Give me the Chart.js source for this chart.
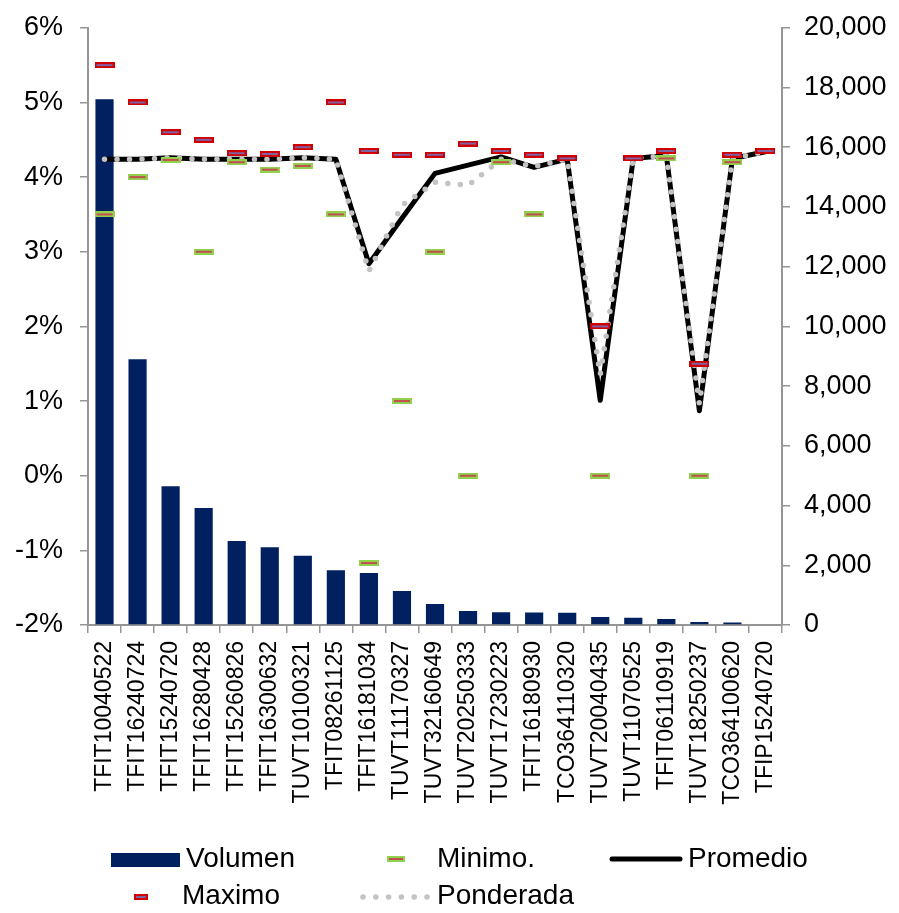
<!DOCTYPE html>
<html>
<head>
<meta charset="utf-8">
<script src="https://cdn.jsdelivr.net/npm/chart.js@4.4.1/dist/chart.umd.min.js"></script>
<style>
  html, body { margin: 0; padding: 0; background: #ffffff; }
  #wrap { width: 899px; height: 913px; position: relative; }
</style>
</head>
<body>
<div id="wrap"><canvas id="c"></canvas></div>
<script>
// Instrument codes (category axis)
const categories = [
  'TFIT10040522', 'TFIT16240724', 'TFIT15240720', 'TFIT16280428', 'TFIT15260826',
  'TFIT16300632', 'TUVT10100321', 'TFIT08261125', 'TFIT16181034', 'TUVT11170327',
  'TUVT32160649', 'TUVT20250333', 'TUVT17230223', 'TFIT16180930', 'TCO364110320',
  'TUVT20040435', 'TUVT11070525', 'TFIT06110919', 'TUVT18250237', 'TCO364100620',
  'TFIP15240720'
];

// Traded volume (right axis)
const volumen = [
  17610, 8900, 4650, 3920, 2810, 2600, 2320, 1830, 1740, 1140,
  700, 470, 430, 420, 410, 270, 240, 200, 100, 80,
  0
];

// Rates in percent (left axis)
const maximo = [
  5.5, 5.0, 4.6, 4.5, 4.32, 4.31, 4.4, 5.0, 4.35, 4.3,
  4.3, 4.45, 4.35, 4.3, 4.25, 2.0, 4.25, 4.35, 1.5, 4.3,
  4.35
];
const minimo = [
  3.5, 4.0, 4.23, 3.0, 4.2, 4.1, 4.15, 3.5, -1.17, 1.0,
  3.0, 0.0, 4.2, 3.5, 4.25, 0.0, 4.25, 4.25, 0.0, 4.2,
  4.35
];
const promedio = [
  4.24, 4.24, 4.26, 4.24, 4.24, 4.24, 4.26, 4.24, 2.84, 3.45,
  4.05, 4.16, 4.27, 4.13, 4.24, 1.01, 4.25, 4.29, 0.87, 4.25,
  4.34
];
const ponderada = [
  4.24, 4.24, 4.26, 4.24, 4.24, 4.24, 4.26, 4.24, 2.74, 3.62,
  3.93, 3.89, 4.24, 4.14, 4.24, 1.35, 4.25, 4.29, 0.96, 4.25,
  4.34
];

// Axis tick ranges
const pctTicks = { min: -2, max: 6, step: 1 };
const volTicks = { min: 0, max: 20000, step: 2000 };

const FONT = 'Liberation Sans, Arial, sans-serif';
const AXIS_GREY = '#959595';
const NAVY = '#002060';

// Small dash-shaped marker images
function dashMarker(w, h, outer, inner) {
  const c = document.createElement('canvas');
  c.width = w; c.height = h;
  const g = c.getContext('2d');
  g.fillStyle = outer;
  g.fillRect(0, 0, w, h);
  g.fillStyle = inner;
  g.fillRect(2, 2, w - 4, h - 4);
  return c;
}
const maxMark = dashMarker(20, 6, '#d00000', '#7f62a6');
const minMark = dashMarker(20, 6, '#92d050', '#c0504d');
const maxMarkSmall = dashMarker(14, 6, '#d00000', '#7f62a6');
const minMarkSmall = dashMarker(18, 6, '#92d050', '#c0504d');

// Legend laid out in fixed columns under the axis labels
const legendPlugin = {
  id: 'gridLegend',
  afterDraw(chart) {
    const ctx = chart.ctx;
    const ds = chart.data.datasets;
    const byLabel = l => ds.find(d => d.label === l);
    ctx.save();
    ctx.font = '28px ' + FONT;
    ctx.fillStyle = '#000';
    ctx.textBaseline = 'alphabetic';
    ctx.textAlign = 'left';

    const row1 = 867, row2 = 904;

    // Volumen
    ctx.fillStyle = byLabel('Volumen').backgroundColor;
    ctx.fillRect(111, 853, 69, 14);
    ctx.fillStyle = '#000';
    ctx.fillText('Volumen', 186, row1);

    // Minimo.
    ctx.drawImage(minMarkSmall, 396 - 9, 859 - 3);
    ctx.fillText('Minimo.', 437, row1);

    // Promedio
    ctx.strokeStyle = byLabel('Promedio').borderColor;
    ctx.lineWidth = 5;
    ctx.lineCap = 'round';
    ctx.beginPath();
    ctx.moveTo(612, 859); ctx.lineTo(680, 859);
    ctx.stroke();
    ctx.fillText('Promedio', 688, row1);

    // Maximo
    ctx.drawImage(maxMarkSmall, 141 - 7, 897 - 3);
    ctx.fillText('Maximo', 182, row2);

    // Ponderada
    ctx.fillStyle = byLabel('Ponderada').borderColor;
    for (let i = 0; i < 6; i++) {
      ctx.beginPath();
      ctx.arc(363 + i * 12.8, 897, 2.8, 0, Math.PI * 2);
      ctx.fill();
    }
    ctx.fillStyle = '#000';
    ctx.fillText('Ponderada', 437, row2);
    ctx.restore();
  }
};

new Chart(document.getElementById('c'), {
  type: 'bar',
  data: {
    labels: categories,
    datasets: [
      {
        label: 'Maximo', type: 'line', data: maximo, yAxisID: 'y',
        showLine: false, pointStyle: maxMark, pointRadius: 10, order: 1
      },
      {
        label: 'Minimo.', type: 'line', data: minimo, yAxisID: 'y',
        showLine: false, pointStyle: minMark, pointRadius: 10, order: 2
      },
      {
        label: 'Ponderada', type: 'line', data: ponderada, yAxisID: 'y',
        borderColor: '#c3c3c3', borderWidth: 5.5, borderDash: [0, 12.5],
        borderCapStyle: 'round', borderJoinStyle: 'round',
        pointRadius: 0, tension: 0, fill: false, order: 3
      },
      {
        label: 'Promedio', type: 'line', data: promedio, yAxisID: 'y',
        borderColor: '#000000', borderWidth: 5,
        borderCapStyle: 'round', borderJoinStyle: 'round',
        pointRadius: 0, tension: 0, fill: false, order: 4
      },
      {
        label: 'Volumen', type: 'bar', data: volumen, yAxisID: 'y2',
        backgroundColor: NAVY, borderWidth: 0,
        categoryPercentage: 1.0, barPercentage: 0.55, order: 5
      }
    ]
  },
  options: {
    responsive: true,
    maintainAspectRatio: false,
    animation: false,
    layout: { padding: { top: 25, left: 0, right: 0, bottom: 0 } },
    plugins: {
      legend: { display: false },
      tooltip: { enabled: false },
      title: { display: false }
    },
    scales: {
      x: {
        type: 'category',
        offset: true,
        grid: {
          offset: true, drawOnChartArea: false, tickLength: 8,
          color: AXIS_GREY, lineWidth: 1.5
        },
        border: { color: AXIS_GREY, width: 2 },
        ticks: {
          font: { family: FONT, size: 23 }, color: '#000',
          minRotation: 90, maxRotation: 90, autoSkip: false, padding: 8
        },
        afterFit(scale) { scale.height = 288; }
      },
      y: {
        position: 'left',
        min: pctTicks.min, max: pctTicks.max,
        grid: {
          drawOnChartArea: false, tickLength: 8,
          color: AXIS_GREY, lineWidth: 1.5
        },
        border: { color: AXIS_GREY, width: 2 },
        ticks: {
          stepSize: pctTicks.step,
          font: { family: FONT, size: 27, lineHeight: 0.8 }, color: '#000', padding: 17,
          callback: v => v + '%'
        },
        afterFit(scale) { scale.width = 88; }
      },
      y2: {
        position: 'right',
        min: volTicks.min, max: volTicks.max,
        grid: {
          drawOnChartArea: false, tickLength: 8,
          color: AXIS_GREY, lineWidth: 1.5
        },
        border: { color: AXIS_GREY, width: 2 },
        ticks: {
          stepSize: volTicks.step,
          font: { family: FONT, size: 27, lineHeight: 0.8 }, color: '#000', padding: 14,
          callback: v => v.toLocaleString('en-US')
        },
        afterFit(scale) { scale.width = 117; }
      }
    }
  },
  plugins: [legendPlugin]
});
</script>
</body>
</html>
